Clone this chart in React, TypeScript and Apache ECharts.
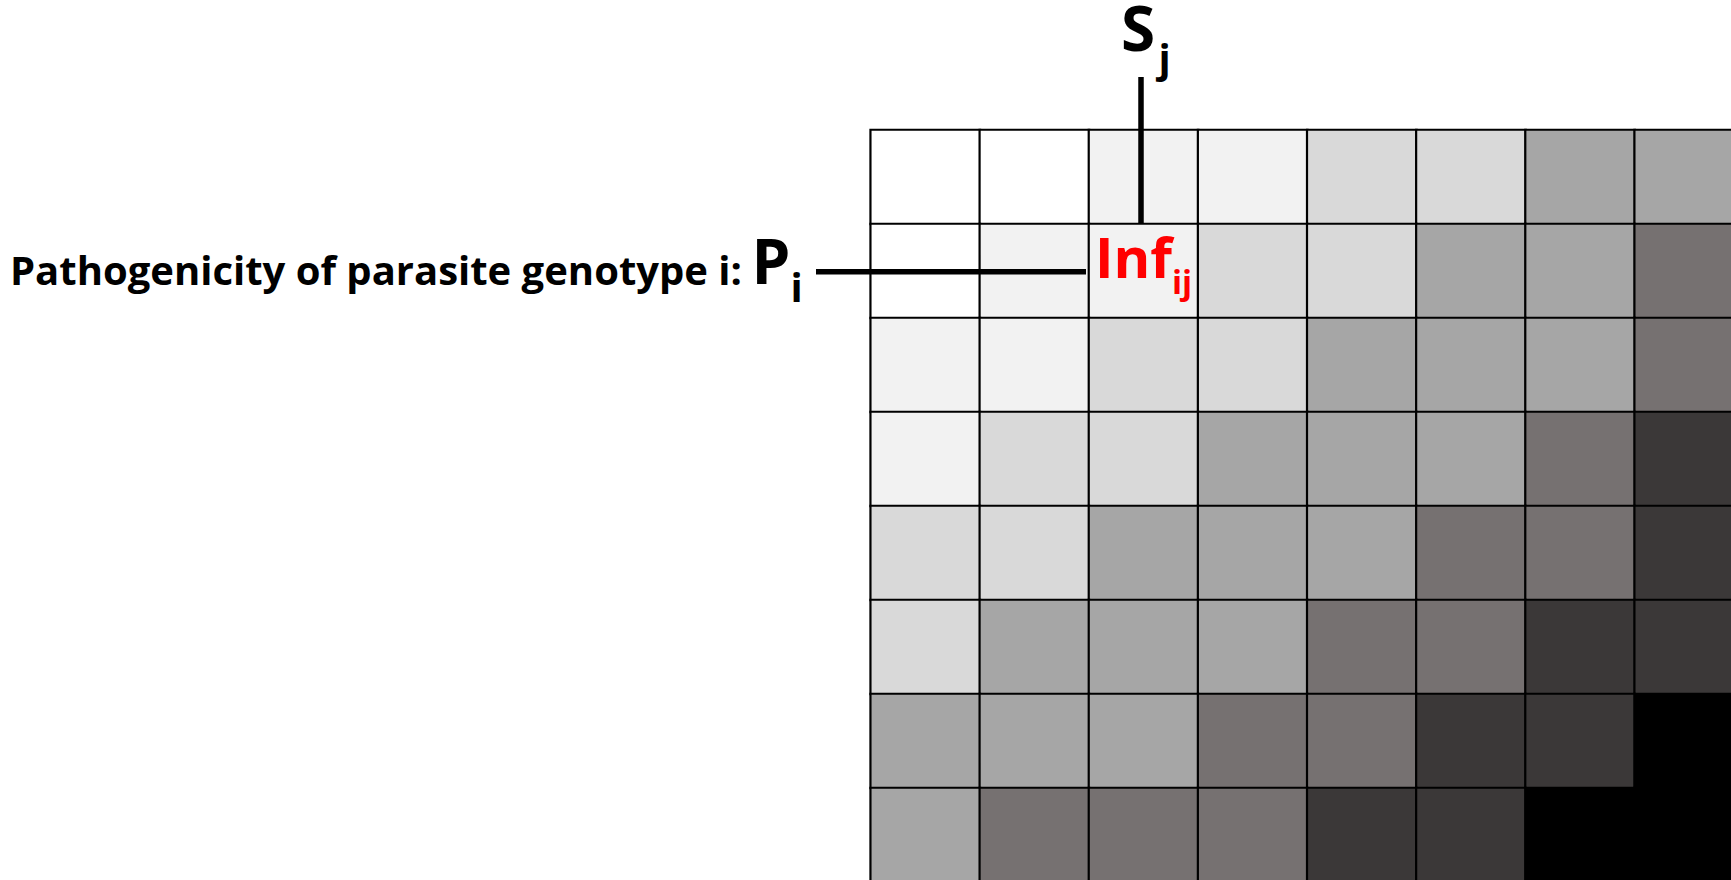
import React, { useEffect, useRef } from "react";
import * as echarts from "echarts";

// Host susceptibility columns (S_j) and parasite pathogenicity rows (P_i)
const hostCols: string[] = ["S1", "S2", "S3", "S4", "S5", "S6", "S7", "S8"];
const parasiteRows: string[] = ["P1", "P2", "P3", "P4", "P5", "P6", "P7", "P8"];

// Infection level (0 = none ... 6 = maximal) per row (parasite) and column (host)
const infRow1: number[] = [0, 0, 1, 1, 2, 2, 3, 3];
const infRow2: number[] = [0, 1, 1, 2, 2, 3, 3, 4];
const infRow3: number[] = [1, 1, 2, 2, 3, 3, 3, 4];
const infRow4: number[] = [1, 2, 2, 3, 3, 3, 4, 5];
const infRow5: number[] = [2, 2, 3, 3, 3, 4, 4, 5];
const infRow6: number[] = [2, 3, 3, 3, 4, 4, 5, 5];
const infRow7: number[] = [3, 3, 3, 4, 4, 5, 5, 6];
const infRow8: number[] = [3, 4, 4, 4, 5, 5, 6, 6];
const infRows: number[][] = [infRow1, infRow2, infRow3, infRow4, infRow5, infRow6, infRow7, infRow8];

// Grey level for each infection level
const levelColors: string[] = ["#FFFFFF", "#F2F2F2", "#D9D9D9", "#A6A6A6", "#767171", "#3B3838", "#000000"];

const rowLabelText = "Pathogenicity of parasite genotype i:";

export default function App() {
  const ref = useRef<HTMLDivElement | null>(null);

  useEffect(() => {
    document.body.style.margin = "0";
    if (!ref.current) return;
    const chart = echarts.init(ref.current, undefined, { renderer: "svg" });

    const data: number[][] = [];
    infRows.forEach((row, i) => {
      row.forEach((v, j) => {
        data.push([j, i, v]);
      });
    });

    const font = "'Open Sans', 'DejaVu Sans', sans-serif";

    chart.setOption({
      animation: false,
      backgroundColor: "#FFFFFF",
      grid: {
        left: 870.7,
        top: 130,
        width: 873.1,
        height: 752,
        outerBoundsMode: "none",
        containLabel: false,
      },
      xAxis: { type: "category", data: hostCols, show: false },
      yAxis: { type: "category", data: parasiteRows, inverse: true, show: false },
      visualMap: {
        type: "piecewise",
        show: false,
        dimension: 2,
        pieces: levelColors.map((c, k) => ({ value: k, color: c })),
      },
      series: [
        {
          type: "heatmap",
          data,
          itemStyle: { borderColor: "#000000", borderWidth: 2.2 },
          emphasis: { disabled: true },
        },
      ],
      graphic: [
        {
          type: "line",
          z: 100,
          shape: { x1: 1141, y1: 77, x2: 1141, y2: 224 },
          style: { stroke: "#000000", lineWidth: 5.5 },
        },
        {
          type: "line",
          z: 100,
          shape: { x1: 816, y1: 271.7, x2: 1086, y2: 271.7 },
          style: { stroke: "#000000", lineWidth: 5.5 },
        },
        {
          type: "text",
          z: 100,
          x: 10,
          y: 269.5,
          style: {
            text: rowLabelText,
            fill: "#000000",
            font: `bold 40px ${font}`,
            textAlign: "left",
            textVerticalAlign: "middle",
          },
        },
        {
          type: "text",
          z: 100,
          x: 751.5,
          y: 260.2,
          style: { text: "P", fill: "#000000", font: `bold 62px ${font}`, lineHeight: 48, textAlign: "left", textVerticalAlign: "middle" },
        },
        {
          type: "text",
          z: 100,
          x: 790.5,
          y: 286.8,
          style: { text: "i", fill: "#000000", font: `bold 40px ${font}`, lineHeight: 32, textAlign: "left", textVerticalAlign: "middle" },
        },
        {
          type: "text",
          z: 100,
          x: 1121,
          y: 27,
          style: { text: "S", fill: "#000000", font: `bold 62px ${font}`, lineHeight: 44, textAlign: "left", textVerticalAlign: "middle" },
        },
        {
          type: "text",
          z: 100,
          x: 1158.5,
          y: 57.9,
          style: { text: "j", fill: "#000000", font: `bold 40px ${font}`, lineHeight: 32, textAlign: "left", textVerticalAlign: "middle" },
        },
        {
          type: "text",
          z: 100,
          x: 1095,
          y: 257.7,
          style: {
            text: "{a|Inf}{b|ij}",
            textAlign: "left",
            textVerticalAlign: "middle",
            rich: {
              a: {
                fill: "#FF0000",
                font: `bold 56px ${font}`,
                lineHeight: 60,
                verticalAlign: "top",
              },
              b: {
                fill: "#FF0000",
                font: `bold 33px ${font}`,
                lineHeight: 30,
                verticalAlign: "top",
                padding: [37, 0, 0, 0],
              },
            },
          },
        },
      ],
    });

    return () => {
      chart.dispose();
    };
  }, []);

  return <div ref={ref} style={{ width: 1731, height: 880, overflow: "hidden" }} />;
}
